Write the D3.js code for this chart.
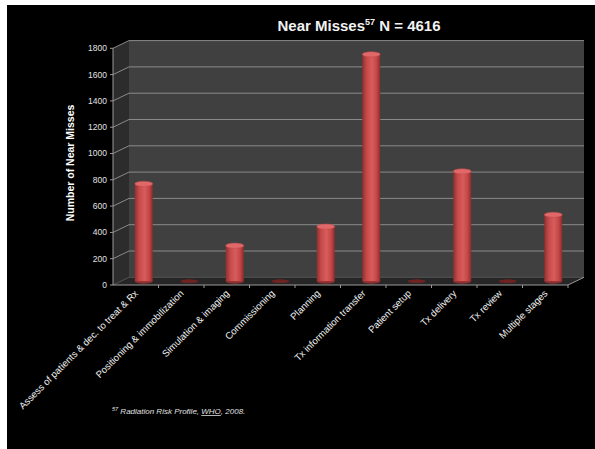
<!DOCTYPE html>
<html><head><meta charset="utf-8">
<script src="https://cdn.jsdelivr.net/npm/d3@7"></script>
<style>body{margin:0;background:#fff}svg{display:block}text{font-family:"Liberation Sans",Arial,sans-serif}</style>
</head><body>
<script>
const categories = ["Assess of patients & dec. to treat & Rx","Positioning & immobilization","Simulation & imaging","Commissioning","Planning","Tx information transfer","Patient setup","Tx delivery","Tx review","Multiple stages"];
const values = [740, 0, 270, 0, 415, 1725, 0, 835, 0, 505];
const yTicks = [0,200,400,600,800,1000,1200,1400,1600,1800];
const titleMain = "Near Misses", titleSup = "57", titleRest = " N = 4616";
const yLabel = "Number of Near Misses";

const W=595,H=449;
const svg=d3.select("body").append("svg").attr("width",W).attr("height",H);
svg.append("rect").attr("width",W).attr("height",H).attr("fill","#fff");
svg.append("rect").attr("x",7).attr("y",5).attr("width",W-7).attr("height",H-5).attr("fill","#000");

const x0=113,x1=568,yBase=285,yTop=48.3,dx=16,dy=-7.7;
const x=d3.scaleBand().domain(categories).range([x0,x1]);
const y=d3.scaleLinear().domain([0,1800]).range([yBase,yTop]);

const defs=svg.append("defs");
const g1=defs.append("linearGradient").attr("id","cyl");
[[0,"#8e2f2f"],[0.25,"#c64a4a"],[0.55,"#d85c5c"],[0.8,"#c44646"],[1,"#8a2c2c"]].forEach(s=>g1.append("stop").attr("offset",s[0]).attr("stop-color",s[1]));

const pts=a=>a.map(p=>p.join(",")).join(" ");
svg.append("polygon").attr("points",pts([[x0,y(0)],[x0,y(1800)],[x0+dx,y(1800)+dy],[x0+dx,y(0)+dy]])).attr("fill","#2c2c2c");
svg.append("polygon").attr("points",pts([[x0+dx,y(1800)+dy],[x1+dx,y(1800)+dy],[x1+dx,y(0)+dy],[x0+dx,y(0)+dy]])).attr("fill","#404040");
svg.append("polygon").attr("points",pts([[x0,y(0)],[x1,y(0)],[x1+dx,y(0)+dy],[x0+dx,y(0)+dy]])).attr("fill","#262626");
yTicks.forEach(t=>{
  svg.append("polyline").attr("points",pts([[x0,y(t)],[x0+dx,y(t)+dy],[x1+dx,y(t)+dy]]))
    .attr("fill","none").attr("stroke",t===0?"#555":"#8a8a8a").attr("stroke-width",1);
});
svg.append("line").attr("x1",x0).attr("x2",x0).attr("y1",y(0)).attr("y2",y(1800)).attr("stroke","#999");
svg.append("polyline").attr("points",pts([[x0,y(0)],[x1,y(0)],[x1+dx,y(0)+dy]])).attr("fill","none").attr("stroke","#999");
yTicks.forEach(t=>{
  svg.append("line").attr("x1",x0-3).attr("x2",x0).attr("y1",y(t)).attr("y2",y(t)).attr("stroke","#999");
  svg.append("text").attr("x",x0-6).attr("y",y(t)).attr("dy","0.35em").attr("text-anchor","end")
    .attr("font-size",8.5).attr("fill","#e0e0e0").text(t);
});
categories.forEach((c,i)=>{
  const xx=x.range()[0]+x.step()*(i+1);
  svg.append("line").attr("x1",xx).attr("x2",xx).attr("y1",y(0)).attr("y2",y(0)+3).attr("stroke","#999");
});

const bw=18, ry=2.6;
categories.forEach((c,i)=>{
  const v=values[i];
  const cx=x(c)+x.bandwidth()/2+dx/2;
  const yb=y(0)+dy/2, yt=y(v)+dy/2;
  const g=svg.append("g");
  if(v>0){
    g.append("ellipse").attr("cx",cx).attr("cy",yb).attr("rx",bw/2).attr("ry",ry).attr("fill","#8e2f2f");
    g.append("rect").attr("x",cx-bw/2).attr("y",yt).attr("width",bw).attr("height",yb-yt).attr("fill","url(#cyl)");
    g.append("ellipse").attr("cx",cx).attr("cy",yt).attr("rx",bw/2).attr("ry",ry).attr("fill","#e06868").attr("stroke","#c04848").attr("stroke-width",0.5);
  } else {
    g.append("ellipse").attr("cx",cx).attr("cy",yb).attr("rx",bw/2).attr("ry",1.8).attr("fill","#6e2323");
  }
});

categories.forEach(c=>{
  const cx=x(c)+x.bandwidth()/2+3;
  svg.append("text").attr("transform",`translate(${cx},${y(0)+9}) rotate(-45)`)
    .attr("text-anchor","end").attr("font-size",9.6).attr("fill","#f0f0f0").text(c);
});

svg.append("text").attr("transform",`translate(74,163) rotate(-90)`).attr("text-anchor","middle")
  .attr("font-size",10.5).attr("font-weight","bold").attr("fill","#fff").text(yLabel);

const tt=svg.append("text").attr("x",359).attr("y",31).attr("text-anchor","middle")
  .attr("font-size",15).attr("font-weight","bold").attr("fill","#f2f2f2");
tt.append("tspan").text(titleMain);
tt.append("tspan").attr("font-size",9).attr("dy",-6).text(titleSup);
tt.append("tspan").attr("dy",6).text(titleRest);

const fn=svg.append("text").attr("x",112).attr("y",414).attr("font-size",8).attr("font-style","italic").attr("fill","#e0e0e0");
fn.append("tspan").attr("font-size",5.5).attr("dy",-3).text("57");
fn.append("tspan").attr("dy",3).text(" Radiation Risk Profile, ");
fn.append("tspan").attr("text-decoration","underline").text("WHO");
fn.append("tspan").text(", 2008.");
</script>
</body></html>
